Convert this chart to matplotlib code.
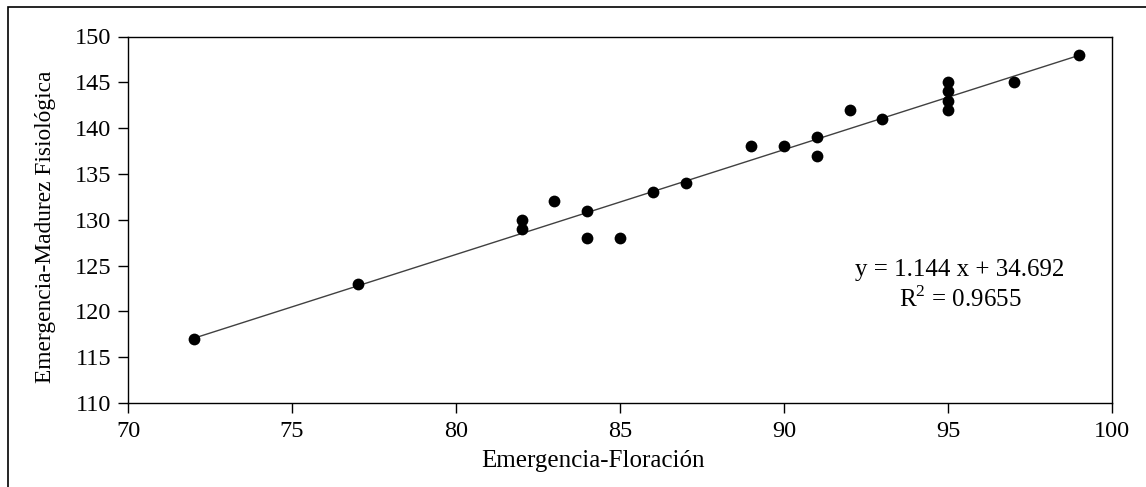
import matplotlib
matplotlib.use("Agg")
import matplotlib.pyplot as plt
import numpy as np
from matplotlib.patches import Rectangle

x_vals = [72, 77, 82, 82, 83, 84, 84, 85, 86, 87, 89, 90, 91, 91, 92, 93, 95, 95, 95, 95, 97, 99]
y_vals = [117, 123, 130, 129, 132, 131, 128, 128, 133, 134, 138, 138, 139, 137, 142, 141, 145, 144, 143, 142, 145, 148]
slope = 1.144
intercept = 34.692
r2_text = "0.9655"
x_ticks = [70, 75, 80, 85, 90, 95, 100]
y_ticks = [110, 115, 120, 125, 130, 135, 140, 145, 150]

plt.rcParams['font.family'] = ['Liberation Serif', 'DejaVu Serif']
plt.rcParams['mathtext.fontset'] = 'custom'
plt.rcParams['mathtext.rm'] = 'Liberation Serif'

fig = plt.figure(figsize=(11.46, 4.87), dpi=100)
W, H = 1146, 487
ax = fig.add_axes([128 / W, 1 - 403 / H, (1112 - 128) / W, (403 - 36.5) / H])

xs = np.array([min(x_vals), max(x_vals)])
ax.plot(xs, slope * xs + intercept, color='#404040', lw=1.0, zorder=2)
ax.scatter(x_vals, y_vals, s=72, color='black', zorder=3, linewidths=0)

ax.set_xlim(70, 100)
ax.set_ylim(110, 150)
ax.set_xticks(x_ticks)
ax.set_yticks(y_ticks)
ax.tick_params(direction='out', length=7, width=1, labelsize=17.5)
ax.tick_params(axis='x', pad=6)
ax.tick_params(axis='y', pad=5)
for s in ax.spines.values():
    s.set_linewidth(1.0)

def px(x, y):
    return x / W, 1 - y / H

fig.text(*px(960, 270), f"y = {slope:.3f} x + {intercept:.3f}", fontsize=18, ha='center', va='center')
fig.text(*px(960, 299), f"R$^2$ = {r2_text}", fontsize=18, ha='center', va='center')

fig.text(*px(593, 461), "Emergencia-Floración", fontsize=18, ha='center', va='center')
fig.text(*px(46, 227), "Emergencia-Madurez Fisiológica", fontsize=16.8, ha='center', va='center', rotation=90)

fig.patches.append(Rectangle((8 / W, -0.1), 1.2, 1 - 7 / H + 0.1, transform=fig.transFigure,
                             fill=False, edgecolor='black', lw=1.2))

fig.savefig("out.png", dpi=100)
